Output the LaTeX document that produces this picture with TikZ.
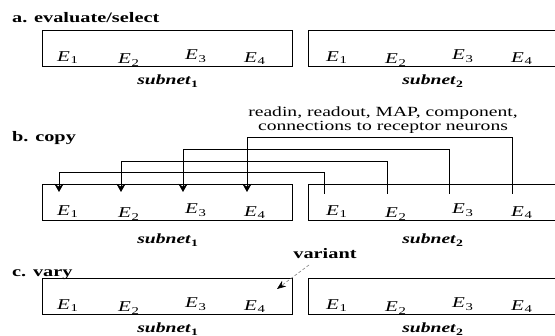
\documentclass[tikz,border=0pt]{standalone}
\usepackage{graphicx}
\usepackage{fontspec}
\setmainfont{Liberation Serif}
\usetikzlibrary{arrows.meta}
\newcommand{\wide}[1]{\scalebox{1.4}[1]{#1}}
\newcommand{\Ee}[1]{\wide{\textit{E}\kern0.03em\textsubscript{#1}}}
\newcommand{\Sn}[1]{\wide{\textbf{\textit{subnet}}\textsubscript{\textbf{#1}}}}
\begin{document}
\begin{tikzpicture}[x=1pt,y=-1pt,
  box/.style={draw, line width=0.8pt, inner sep=0pt, anchor=north west, minimum height=36pt},
  elab/.style={font=\fontsize{15}{15}\selectfont, anchor=base, inner sep=0pt},
  hdr/.style={font=\fontsize{14.5}{15}\selectfont\bfseries, anchor=base west, inner sep=0pt},
  snl/.style={font=\fontsize{14}{14}\selectfont, anchor=base, inner sep=0pt},
  txt/.style={font=\fontsize{14}{14}\selectfont, anchor=base, inner sep=0pt},
  link/.style={line width=0.8pt},
  arr/.style={link, -{Stealth[length=8pt,width=9pt]}},
  varr/.style={draw=gray, densely dashed, line width=0.6pt, -{Stealth[length=9pt,width=7pt,black]}},
]
\useasboundingbox (0,0) rectangle (555,336);
\clip (0,0) rectangle (555,336);

% headers
\node[hdr] (ha) at (12,23) {\wide{a. evaluate/select}};
\node[hdr] (hb) at (12,142) {\wide{b. copy}};
\node[hdr] (hc) at (12,276.5) {\wide{c. vary}};

% boxes
\foreach \r/\t in {a/30, b/184, c/278} {
  \node[box, minimum width=250pt] (\r1) at (42,\t) {};
  \node[box, minimum width=262pt] (\r2) at (308,\t) {};
  \foreach \i/\xl/\xr/\o in {1/68/337/31.5, 2/129/396/34, 3/196/463/30, 4/255/522/32.5} {
    \node[elab] (\r1e\i) at (\xl,\t+\o) {\Ee{\i}};
    \node[elab] (\r2e\i) at (\xr,\t+\o) {\Ee{\i}};
  }
}

% subnet labels
\node[snl] (sa1) at (168,85) {\Sn{1}};
\node[snl] (sa2) at (433,85) {\Sn{2}};
\node[snl] (sb1) at (168,244) {\Sn{1}};
\node[snl] (sb2) at (433,244) {\Sn{2}};
\node[snl] (sc1) at (168,333) {\Sn{1}};
\node[snl] (sc2) at (433,333) {\Sn{2}};

% copy description
\node[txt] (r1) at (383,117) {\wide{readin, readout, MAP, component,}};
\node[txt] (r2) at (383,131) {\wide{connections to receptor neurons}};

% copy connectors
\coordinate (s1) at (324,194); \coordinate (d1) at (59,192);
\coordinate (s2) at (387,194); \coordinate (d2) at (121,192);
\coordinate (s3) at (449,194); \coordinate (d3) at (183,192);
\coordinate (s4) at (512,194); \coordinate (d4) at (247,192);
\draw[arr] (s4) |- (247,137.5) -- (d4);
\draw[arr] (s3) |- (183,149.5) -- (d3);
\draw[arr] (s2) |- (121,161.5) -- (d2);
\draw[arr] (s1) |- (59,172.5) -- (d1);

% variant
\node[hdr, anchor=base] (var) at (325,259) {\wide{variant}};
\coordinate (vs) at (309,265);
\coordinate (vt) at (277,289);
\draw[varr] (vs) -- (vt);
\end{tikzpicture}
\end{document}
